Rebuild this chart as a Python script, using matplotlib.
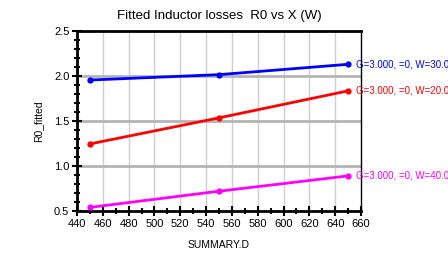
import matplotlib
matplotlib.use("Agg")
import matplotlib.pyplot as plt
from matplotlib.ticker import MultipleLocator

plt.rcParams['font.family'] = ['Liberation Sans', 'DejaVu Sans']

x = [450, 550, 650]
series = {
    "G=3.000, =0, W=30.00": ([1.955, 2.015, 2.13], "#0000ff"),
    "G=3.000, =0, W=20.00": ([1.245, 1.535, 1.835], "#ff0000"),
    "G=3.000, =0, W=40.00": ([0.54, 0.72, 0.89], "#ff00ff"),
}
title = "Fitted Inductor losses  R0 vs X (W)"
xlabel = "SUMMARY.D"
ylabel = "R0_fitted"

fig = plt.figure(figsize=(4.48, 2.54), dpi=100)
ax = fig.add_axes([77/448, 1-211/254, (361-77)/448, (211-31)/254])
ax.set_xlim(440, 660)
ax.set_ylim(0.5, 2.5)

for xv in range(460, 660, 20):
    ax.axvline(xv, color="#cfcfcf", lw=1.0, zorder=0)
for yv in [1.0, 1.5, 2.0]:
    ax.axhline(yv, color="#b4b4b4", lw=2.0, zorder=0)

for label, (vals, c) in series.items():
    ax.plot(x, vals, color=c, lw=2.0, marker="o", ms=3.5, zorder=3, clip_on=False)
    ax.annotate(label, (x[-1], vals[-1]), xytext=(6, 0), textcoords="offset points",
                color=c, fontsize=7, va="center", ha="left", annotation_clip=False)

ax.xaxis.set_major_locator(MultipleLocator(20))
ax.xaxis.set_minor_locator(MultipleLocator(10))
ax.yaxis.set_major_locator(MultipleLocator(0.5))
ax.yaxis.set_minor_locator(MultipleLocator(0.1))
ax.tick_params(axis="both", which="major", direction="inout", length=7, width=1.5,
               labelsize=8, pad=2)
ax.tick_params(axis="both", which="minor", direction="inout", length=4, width=1.5)
ax.set_yticklabels([f"{v:.1f}" for v in ax.get_yticks()])

for s in ["left", "bottom", "top"]:
    ax.spines[s].set_linewidth(2)
ax.spines["right"].set_linewidth(1)

ax.set_title(title, fontsize=9.5, pad=9)
ax.set_xlabel(xlabel, fontsize=7.5, labelpad=8)
ax.set_ylabel(ylabel, fontsize=7.5, labelpad=8)

fig.savefig("out.png", dpi=100)
